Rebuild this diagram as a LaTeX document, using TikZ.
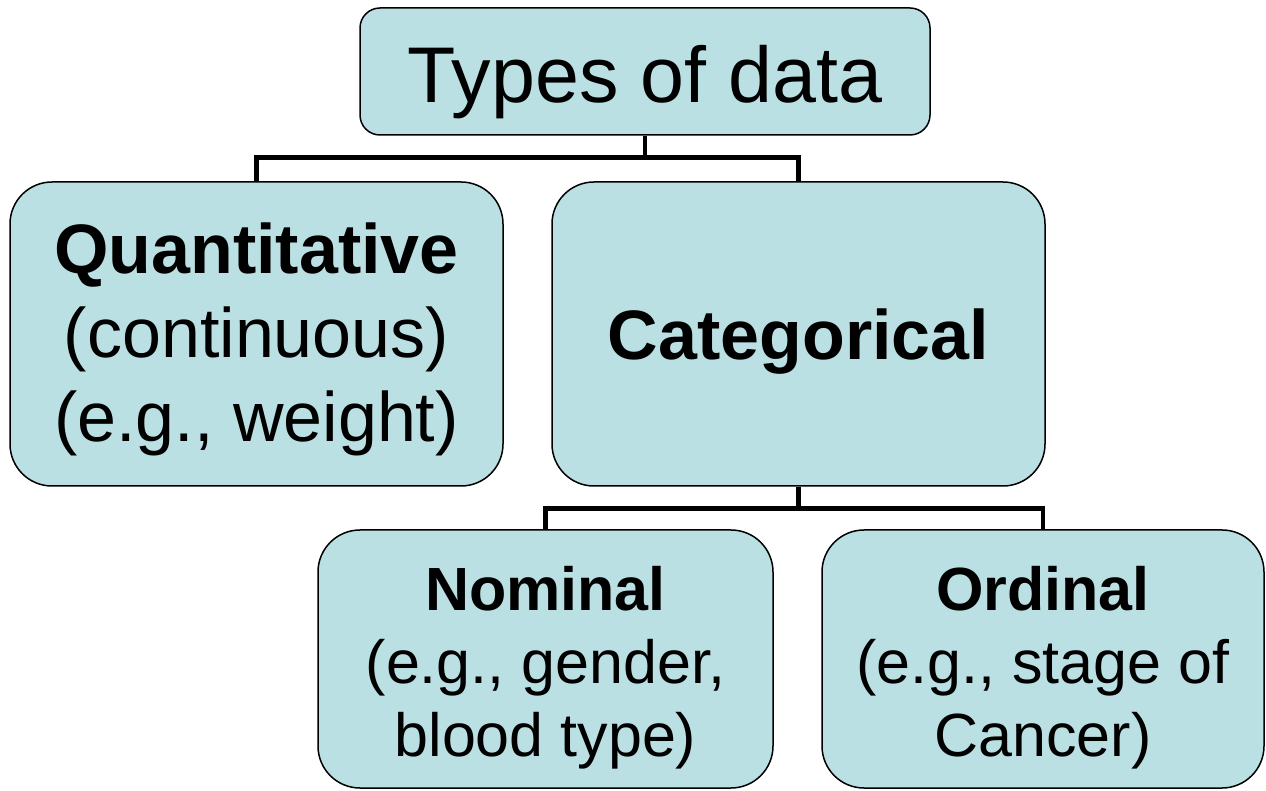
\documentclass[tikz,border=0pt]{standalone}
\usepackage{fontspec}
\setmainfont{Liberation Sans}
\definecolor{boxblue}{RGB}{187,224,227}
\tikzset{
  databox/.style={draw=black, line width=1.5pt, fill=boxblue, rounded corners=42pt,
    align=center, inner sep=0pt},
  link/.style={draw=black, line width=4.5pt}
}
\newcommand{\titlesize}{\fontsize{79}{95}\selectfont}
\newcommand{\midsize}{\fontsize{70}{84}\selectfont}
\newcommand{\lowsize}{\fontsize{61}{73}\selectfont}
% invisible strut to push the text a little lower in its box
\newcommand{\topgap}[1]{\rule{0pt}{#1em}}
\begin{document}
\begin{tikzpicture}[x=1pt,y=1pt]
\useasboundingbox (0,0) rectangle (1266,790);
% boxes
\node[databox, rounded corners=20pt, font=\titlesize, minimum width=570pt, minimum height=127pt] (types) at (645,718.5) {\topgap{1}Types of data};
\node[databox, font=\midsize, minimum width=493pt, minimum height=304pt] (quant) at (256.5,456) {\topgap{0.87}\textbf{Quantitative}\\(continuous)\\(e.g., weight)};
\node[databox, font=\midsize, minimum width=493pt, minimum height=304pt] (categ) at (798.5,456) {\topgap{0.94}\textbf{Categorical}};
\node[databox, font=\lowsize, minimum width=455pt, minimum height=258pt] (nom) at (545.5,131) {\topgap{1}\textbf{Nominal}\\(e.g., gender,\\blood type)};
\node[databox, font=\lowsize, minimum width=442pt, minimum height=258pt] (ord) at (1043,131) {\topgap{1}\textbf{Ordinal}\\(e.g., stage of\\Cancer)};
% connectors
\draw[link] (types.south) -- ++(0,-22) coordinate (tsplit) -| (quant.north);
\draw[link] (tsplit) -| (categ.north);
\draw[link] (categ.south) -- ++(0,-22) coordinate (csplit) -| (nom.north);
\draw[link] (csplit) -| (ord.north);
\end{tikzpicture}
\end{document}
